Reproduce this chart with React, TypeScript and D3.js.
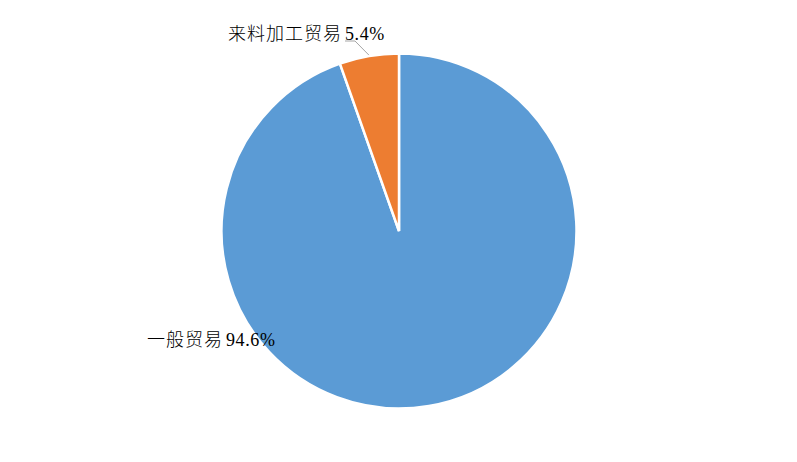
import * as d3 from 'd3'

const categories = ['一般贸易', '来料加工贸易']
const values = [94.6, 5.4]
const valueLabels = ['94.6%', '5.4%']
const colors = ['#5B9BD5', '#ED7D31']

const W = 797
const H = 462
const cx = 399
const cy = 231
const radius = 177.5

type Slice = d3.PieArcDatum<number>

export default function App() {
  const pie = d3.pie<number>().sort(null).value((d) => d)
  const arcs: Slice[] = pie(values)
  const arc = d3.arc<Slice>().innerRadius(0).outerRadius(radius)

  // label placement (text start x, baseline y), leader only on the small slice
  const labelPos = [
    { x: 147, y: 346, leader: false },
    { x: 228, y: 40, leader: true },
  ]

  const cjk = '"Noto Sans CJK SC", sans-serif'
  const latin = '"Liberation Serif", "Times New Roman", serif'

  return (
    <svg width={W} height={H} style={{ position: 'absolute', left: 0, top: 0, background: '#fff' }}>
      <g transform={`translate(${cx},${cy})`}>
        {arcs.map((a, i) => (
          <path key={categories[i]} d={arc(a) ?? ''} fill={colors[i]} stroke="#fff" strokeWidth={2.5} strokeLinejoin="miter" />
        ))}
      </g>
      {arcs.map((a, i) => {
        const p = labelPos[i]
        if (!p.leader) return null
        const mid = (a.startAngle + a.endAngle) / 2
        const ex = cx + Math.sin(mid) * (radius + 1)
        const ey = cy - Math.cos(mid) * (radius + 1)
        return (
          <polyline
            key={'lead' + i}
            points={`345,41 355,41 ${ex},${ey}`}
            fill="none"
            stroke="#A5A5A5"
            strokeWidth={1}
          />
        )
      })}
      {arcs.map((a, i) => {
        const p = labelPos[i]
        return (
          <text key={'lbl' + i} x={p.x} y={p.y} fontSize={18} fill="#000">
            <tspan fontFamily={cjk} fontWeight={300} letterSpacing={1}>
              {categories[i]}
            </tspan>
            <tspan fontFamily={latin} dx={3} letterSpacing={0.6}>
              {valueLabels[i]}
            </tspan>
          </text>
        )
      })}
    </svg>
  )
}
